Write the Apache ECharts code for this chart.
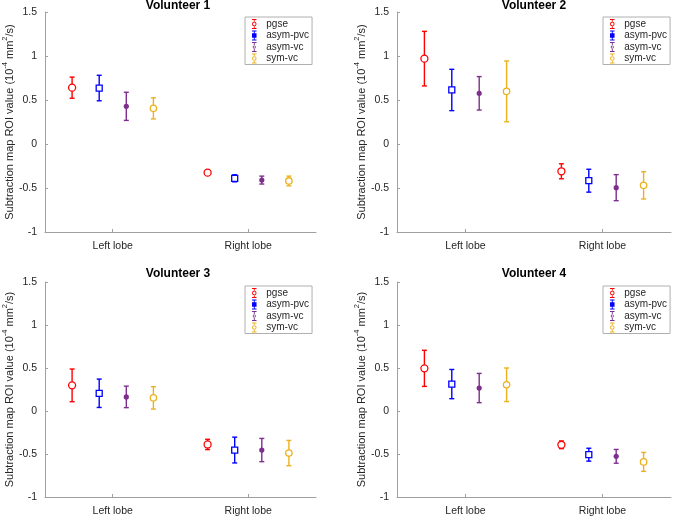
<!DOCTYPE html>
<html>
<head>
<meta charset="utf-8">
<script src="https://cdn.jsdelivr.net/npm/echarts@6/dist/echarts.min.js"></script>
<style>
  html, body { margin: 0; padding: 0; background: #fff; }
  #chart { width: 676px; height: 517px; }
</style>
</head>
<body>
<div id="chart"></div>
<script>
// lobes on the x axis, methods as the four series
const categories = ['Left lobe', 'Right lobe'];
const methods = ['pgse', 'asym-pvc', 'asym-vc', 'sym-vc'];
const titles = ['Volunteer 1', 'Volunteer 2', 'Volunteer 3', 'Volunteer 4'];
const yTicks = [-1, -0.5, 0, 0.5, 1, 1.5];

// mean per method: [left lobe, right lobe]
const v1Mean = [[0.64, -0.326], [0.636, -0.39], [0.428, -0.41], [0.405, -0.42]];
const v1Err = [[0.12, 0.025], [0.145, 0.04], [0.16, 0.045], [0.12, 0.055]];
const v2Mean = [[0.97, -0.31], [0.614, -0.417], [0.576, -0.496], [0.598, -0.47]];
const v2Err = [[0.31, 0.085], [0.235, 0.13], [0.19, 0.148], [0.345, 0.155]];
const v3Mean = [[0.298, -0.389], [0.206, -0.454], [0.164, -0.454], [0.153, -0.489]];
const v3Err = [[0.19, 0.06], [0.165, 0.15], [0.125, 0.135], [0.13, 0.147]];
const v4Mean = [[0.496, -0.393], [0.313, -0.508], [0.267, -0.527], [0.305, -0.592]];
const v4Err = [[0.21, 0.045], [0.17, 0.075], [0.17, 0.08], [0.195, 0.11]];

const means = [v1Mean, v2Mean, v3Mean, v4Mean];
const errs = [v1Err, v2Err, v3Err, v4Err];

const colors = ['#ff0000', '#0000ff', '#7e2f8e', '#edb120'];
const shift = [-0.3, -0.1, 0.1, 0.3];
const font = '"Liberation Sans", Arial, Helvetica, sans-serif';

const grids = [
  { left: 40, top: 12, width: 276, height: 220 },
  { left: 397, top: 12, width: 274, height: 220 },
  { left: 40, top: 282, width: 276, height: 218 },
  { left: 397, top: 282, width: 274, height: 218 }
];
const legendPos = [
  { left: 245, top: 17 }, { left: 603, top: 17 },
  { left: 245, top: 286 }, { left: 603, top: 286 }
];

const icons = [
  'path://M5 0h10v2h-10z M5 20h10v2h-10z M9 2h2v5h-2z M9 15h2v5h-2z M15 11A5 5 0 1 0 5 11A5 5 0 1 0 15 11Z M13 11A3 3 0 1 1 7 11A3 3 0 1 1 13 11Z',
  'path://M5 0h10v2h-10z M5 20h10v2h-10z M9 2h2v4h-2z M9 16h2v4h-2z M5 6h10v10h-10z',
  'path://M5 0h10v2h-10z M5 20h10v2h-10z M9 2h2v18h-2z M13.5 11A3.5 3.5 0 1 0 6.5 11A3.5 3.5 0 1 0 13.5 11Z',
  'path://M5 0h10v2h-10z M5 20h10v2h-10z M9 2h2v5h-2z M9 15h2v5h-2z M15 11A5 5 0 1 0 5 11A5 5 0 1 0 15 11Z M13 11A3 3 0 1 1 7 11A3 3 0 1 1 13 11Z'
];

function drawBar(m) {
  return function (params, api) {
    const x = api.value(0), y = api.value(1), e = api.value(2);
    const c = api.coord([x, y]);
    const top = api.coord([x, y + e]);
    const bot = api.coord([x, y - e]);
    const col = colors[m];
    const st = { stroke: col, lineWidth: 1.4, fill: null };
    const kids = [
      { type: 'line', shape: { x1: c[0], y1: top[1], x2: c[0], y2: bot[1] }, style: st },
      { type: 'line', shape: { x1: c[0] - 2.5, y1: top[1], x2: c[0] + 2.5, y2: top[1] }, style: st },
      { type: 'line', shape: { x1: c[0] - 2.5, y1: bot[1], x2: c[0] + 2.5, y2: bot[1] }, style: st }
    ];
    if (m === 0) {
      kids.push({ type: 'circle', shape: { cx: c[0], cy: c[1], r: 3.5 }, style: { stroke: col, lineWidth: 1.3, fill: '#fff' } });
    } else if (m === 1) {
      kids.push({ type: 'rect', shape: { x: c[0] - 3, y: c[1] - 3, width: 6, height: 6 }, style: { stroke: col, lineWidth: 1.3, fill: '#fff' } });
    } else if (m === 2) {
      kids.push({ type: 'circle', shape: { cx: c[0], cy: c[1], r: 2.6 }, style: { fill: col } });
    } else {
      kids.push({ type: 'circle', shape: { cx: c[0], cy: c[1], r: 3.2 }, style: { stroke: col, lineWidth: 1.3, fill: '#fff' } });
    }
    return { type: 'group', children: kids };
  };
}

const option = {
  animation: false,
  backgroundColor: '#fff',
  textStyle: { fontFamily: font },
  title: [], grid: [], xAxis: [], yAxis: [], legend: [], series: []
};

grids.forEach((g, i) => {
  option.grid.push(g);
  option.title.push({
    text: titles[i],
    left: g.left + g.width / 2,
    top: i < 2 ? 0 : 268,
    textAlign: 'center',
    padding: 0,
    textStyle: { fontSize: 12, fontWeight: 'bold', color: '#000', fontFamily: font }
  });
  option.xAxis.push({
    type: 'value', gridIndex: i, min: 0.5, max: 2.5,
    splitLine: { show: false },
    axisLine: { onZero: false, lineStyle: { color: '#a0a0a0', width: 1 } },
    axisTick: { inside: true, length: 3, customValues: [1, 2], lineStyle: { color: '#a0a0a0' } },
    axisLabel: {
      customValues: [1, 2], color: '#262626', fontSize: 10.5, margin: 9,
      formatter: v => categories[Math.round(v) - 1]
    }
  });
  option.yAxis.push({
    type: 'value', gridIndex: i, min: -1, max: 1.5, interval: 0.5,
    splitLine: { show: false },
    axisLine: { show: true, onZero: false, lineStyle: { color: '#a0a0a0', width: 1 } },
    axisTick: { show: true, inside: true, length: 3, lineStyle: { color: '#a0a0a0' } },
    axisLabel: { color: '#262626', fontSize: 10.5, margin: 8, formatter: v => String(v) },
    name: '{n|Subtraction map ROI value (10}{s|-4}{n| mm}{s|2}{n|/s)}',
    nameLocation: 'middle',
    nameGap: 26,
    nameTextStyle: {
      rich: {
        n: { fontSize: 11, color: '#262626', fontFamily: font, lineHeight: 14, verticalAlign: 'bottom' },
        s: { fontSize: 7.5, color: '#262626', fontFamily: font, lineHeight: 14, verticalAlign: 'top' }
      }
    }
  });
  option.legend.push({
    left: legendPos[i].left, top: legendPos[i].top,
    orient: 'vertical',
    backgroundColor: '#fff',
    borderColor: '#b0b0b0', borderWidth: 1, borderRadius: 0,
    padding: [2, 3, 1, 7],
    itemGap: 1.5, itemWidth: 8, itemHeight: 10,
    textStyle: { fontSize: 10, color: '#262626', fontFamily: font, padding: [0, 0, 0, 3] },
    selectedMode: false,
    data: methods.map((name, m) => ({ name: name, icon: icons[m] }))
  });
  methods.forEach((name, m) => {
    option.series.push({
      type: 'custom',
      name: name,
      xAxisIndex: i, yAxisIndex: i,
      itemStyle: { color: colors[m] },
      renderItem: drawBar(m),
      data: categories.map((c, k) => [k + 1 + shift[m], means[i][m][k], errs[i][m][k]])
    });
  });
});

const chart = echarts.init(document.getElementById('chart'), null, { renderer: 'canvas' });
chart.setOption(option);
</script>
</body>
</html>
